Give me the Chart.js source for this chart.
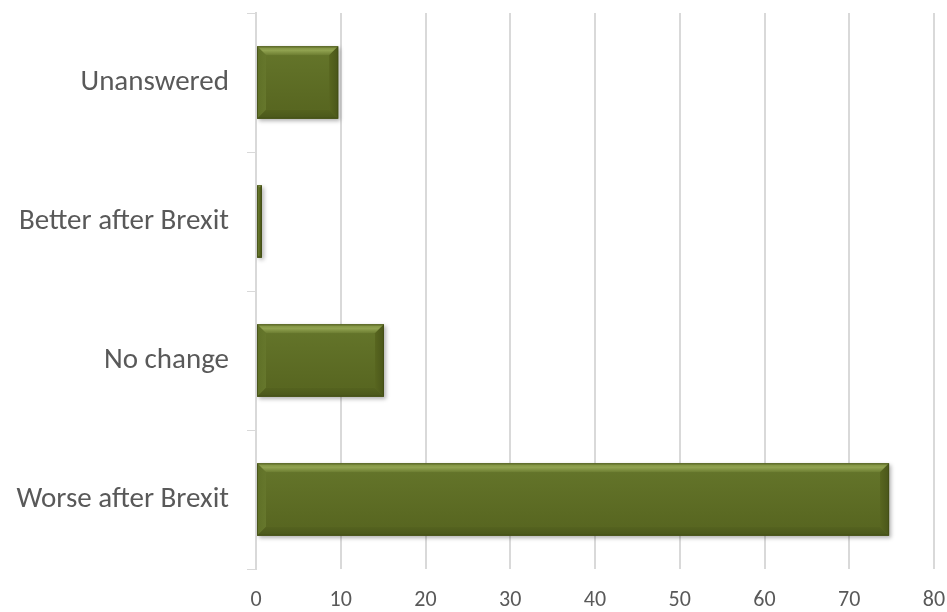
<!DOCTYPE html>
<html>
<head>
<meta charset="utf-8">
<script src="https://cdn.jsdelivr.net/npm/chart.js"></script>
<style>
  html, body { margin: 0; padding: 0; background: #fff; }
  #wrap { width: 947px; height: 612px; position: relative; }
</style>
</head>
<body>
<div id="wrap"><canvas id="chart"></canvas></div>
<script>
// Data
const categories = ['Unanswered', 'Better after Brexit', 'No change', 'Worse after Brexit'];
const responses = [9.7, 0.7, 15.1, 74.7];
const xTicks = [0, 10, 20, 30, 40, 50, 60, 70, 80];

const FONT = '"Carlito", "Open Sans", "Noto Sans", sans-serif';
const TEXT = '#595959';
const GRID = '#d9d9d9';

// Drop shadow under the bars, then a soft bevel drawn over each bar
const bevelPlugin = {
    id: 'bevel',
    beforeDatasetsDraw(chart) {
        const ctx = chart.ctx;
        ctx.save();
        ctx.shadowColor = 'rgba(0,0,0,0.3)';
        ctx.shadowBlur = 4;
        ctx.shadowOffsetX = 2;
        ctx.shadowOffsetY = 2;
    },
    afterDatasetsDraw(chart) {
        const ctx = chart.ctx;
        ctx.restore();
        chart.getDatasetMeta(0).data.forEach(bar => {
            const { x, y, base, height } = bar.getProps(['x', 'y', 'base', 'height'], true);
            const l = Math.min(x, base), r = Math.max(x, base);
            const t = y - height / 2, b = y + height / 2;
            const bv = Math.min(9, (r - l) / 2, height / 2);
            const poly = (pts, fill) => {
                ctx.beginPath();
                ctx.moveTo(pts[0][0], pts[0][1]);
                pts.slice(1).forEach(p => ctx.lineTo(p[0], p[1]));
                ctx.closePath();
                ctx.fillStyle = fill;
                ctx.fill();
            };
            ctx.save();
            // face gradient
            const g = ctx.createLinearGradient(0, t, 0, b);
            g.addColorStop(0, '#65762b');
            g.addColorStop(1, '#56641f');
            poly([[l + bv, t + bv], [r - bv, t + bv], [r - bv, b - bv], [l + bv, b - bv]], g);
            // top bevel
            const gt = ctx.createLinearGradient(0, t, 0, t + bv);
            gt.addColorStop(0, '#7b8c3c');
            gt.addColorStop(0.45, '#90a250');
            gt.addColorStop(1, '#6b7c30');
            poly([[l, t], [r, t], [r - bv, t + bv], [l + bv, t + bv]], gt);
            // left bevel
            const gl = ctx.createLinearGradient(l, 0, l + bv, 0);
            gl.addColorStop(0, '#5f7027');
            gl.addColorStop(1, '#66772c');
            poly([[l, t], [l + bv, t + bv], [l + bv, b - bv], [l, b]], gl);
            // right bevel
            const gr = ctx.createLinearGradient(r - bv, 0, r, 0);
            gr.addColorStop(0, '#58661f');
            gr.addColorStop(1, '#4a561a');
            poly([[r, t], [r, b], [r - bv, b - bv], [r - bv, t + bv]], gr);
            // bottom bevel
            const gb = ctx.createLinearGradient(0, b - bv, 0, b);
            gb.addColorStop(0, '#55631f');
            gb.addColorStop(1, '#4a571b');
            poly([[l, b], [l + bv, b - bv], [r - bv, b - bv], [r, b]], gb);
            ctx.strokeStyle = 'rgba(65,75,22,0.7)';
            ctx.lineWidth = 1;
            ctx.strokeRect(l + 0.5, t + 0.5, r - l - 1, b - t - 1);
            ctx.restore();
        });
    }
};

new Chart(document.getElementById('chart'), {
    type: 'bar',
    data: {
        labels: categories,
        datasets: [{
            data: responses,
            backgroundColor: '#5e6c27',
            borderWidth: 0,
            categoryPercentage: 1,
            barPercentage: 0.52
        }]
    },
    options: {
        indexAxis: 'y',
        responsive: true,
        maintainAspectRatio: false,
        animation: false,
        layout: { padding: { top: 13, right: 13, left: 0, bottom: 0 } },
        plugins: {
            legend: { display: false },
            tooltip: { enabled: false }
        },
        scales: {
            x: {
                min: 0,
                max: 80,
                afterBuildTicks(scale) {
                    scale.ticks = xTicks.map(v => ({ value: v }));
                },
                afterFit(scale) {
                    scale.height = 43;
                    scale.paddingLeft = 0;
                    scale.paddingRight = 0;
                },
                grid: { color: GRID, lineWidth: 2, drawTicks: false },
                border: { display: false },
                ticks: {
                    padding: 18,
                    color: TEXT,
                    font: { family: FONT, size: 22 }
                }
            },
            y: {
                afterFit(scale) {
                    scale.width = 256;
                    scale.paddingTop = 0;
                    scale.paddingBottom = 0;
                },
                grid: {
                    offset: true,
                    drawOnChartArea: false,
                    color: GRID,
                    lineWidth: 1,
                    tickLength: 9
                },
                border: { display: true, color: GRID, width: 2 },
                ticks: {
                    padding: 18,
                    color: TEXT,
                    font: { family: FONT, size: 29 }
                }
            }
        }
    },
    plugins: [bevelPlugin]
});
</script>
</body>
</html>
